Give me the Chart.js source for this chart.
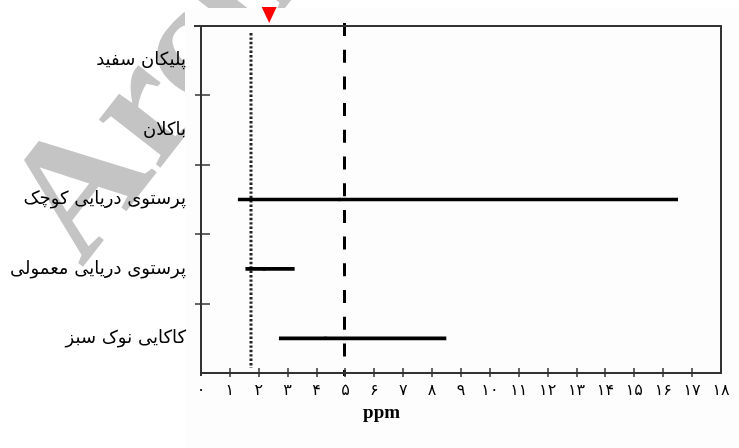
<!DOCTYPE html>
<html>
<head>
<meta charset="utf-8">
<script src="https://cdn.jsdelivr.net/npm/chart.js@4/dist/chart.umd.min.js"></script>
<style>
  html, body { margin: 0; padding: 0; background: #fff; }
  #wrap { width: 739px; height: 448px; }
</style>
</head>
<body>
<div id="wrap"><canvas id="chart" width="739" height="448"></canvas></div>
<script>
// data
var categories = ['پلیکان سفید', 'باکلان', 'پرستوی دریایی کوچک', 'پرستوی دریایی معمولی', 'کاکایی نوک سبز'];
var rangeLow = [null, null, 1.29, 1.55, 2.71];
var rangeHigh = [null, null, 16.5, 3.23, 8.48];
var midValues = [null, null, 4.79, 2.19, 4.31];
var xTickLabels = ['۰', '۱', '۲', '۳', '۴', '۵', '۶', '۷', '۸', '۹', '۱۰', '۱۱', '۱۲', '۱۳', '۱۴', '۱۵', '۱۶', '۱۷', '۱۸'];
var dottedLineValue = 1.73;
var dashedLineValue = 5;
var markerValue = 2.36;
var xTitle = 'ppm';
var xTitleAt = 6.25;
var watermark = 'Archive';

var rangeData = categories.map(function (c, i) {
    return rangeLow[i] == null ? null : [rangeLow[i], rangeHigh[i]];
});

// background, watermark, frame, reference lines, ticks
var decor = {
    id: 'decor',
    beforeDraw: function (chart) {
        var ctx = chart.ctx;
        ctx.save();
        ctx.fillStyle = '#fff';
        ctx.fillRect(0, 0, chart.width, chart.height);
        ctx.translate(82, 268);
        ctx.rotate(-52 * Math.PI / 180);
        ctx.fillStyle = '#c4c4c4';
        ctx.font = 'bold 170px "Liberation Serif"';
        ctx.textBaseline = 'alphabetic';
        ctx.fillText(watermark, 0, 0);
        ctx.restore();
        ctx.save();
        ctx.fillStyle = '#fdfdfd';
        ctx.fillRect(185, 8, chart.width - 185, chart.height - 8);
        ctx.restore();
    },
    beforeDatasetsDraw: function (chart) {
        var ctx = chart.ctx, a = chart.chartArea, xs = chart.scales.x;
        ctx.save();
        // dotted line
        var xd = Math.round(xs.getPixelForValue(dottedLineValue));
        ctx.strokeStyle = '#222';
        ctx.lineWidth = 3;
        ctx.setLineDash([2.4, 2]);
        ctx.beginPath();
        ctx.moveTo(xd, a.top + 7);
        ctx.lineTo(xd, a.bottom - 5);
        ctx.stroke();
        // dashed line
        var xx = Math.round(xs.getPixelForValue(dashedLineValue)) - 0.5;
        ctx.strokeStyle = '#000';
        ctx.lineWidth = 3;
        ctx.setLineDash([13, 13.7]);
        ctx.beginPath();
        ctx.moveTo(xx, a.top - 3);
        ctx.lineTo(xx, a.bottom + 3);
        ctx.stroke();
        ctx.restore();
    },
    afterDraw: function (chart) {
        var ctx = chart.ctx, a = chart.chartArea, xs = chart.scales.x, ys = chart.scales.y;
        ctx.save();
        ctx.strokeStyle = '#333';
        ctx.lineWidth = 2;
        ctx.beginPath();
        ctx.moveTo(a.left - 7, a.top);
        ctx.lineTo(a.right, a.top);
        ctx.lineTo(a.right, a.bottom);
        ctx.lineTo(a.left, a.bottom);
        ctx.moveTo(a.left, a.top);
        ctx.lineTo(a.left, a.bottom + 3);
        ctx.stroke();
        // x ticks
        ctx.lineWidth = 1.5;
        ctx.beginPath();
        for (var v = 1; v <= 17; v++) {
            var px = Math.round(xs.getPixelForValue(v));
            ctx.moveTo(px, a.bottom - 5);
            ctx.lineTo(px, a.bottom + 4);
        }
        // y ticks between categories
        for (var i = 1; i < categories.length; i++) {
            var py = Math.round((ys.getPixelForValue(i - 1) + ys.getPixelForValue(i)) / 2);
            ctx.moveTo(a.left - 6, py);
            ctx.lineTo(a.left + 9, py);
        }
        ctx.stroke();
        // red marker
        var mx = xs.getPixelForValue(markerValue);
        ctx.fillStyle = '#ff0000';
        ctx.beginPath();
        ctx.moveTo(mx - 7.5, 7);
        ctx.lineTo(mx + 7.5, 7);
        ctx.lineTo(mx, 23);
        ctx.closePath();
        ctx.fill();
        // axis title
        ctx.fillStyle = '#000';
        ctx.font = 'bold 19px "Liberation Serif"';
        ctx.textAlign = 'center';
        ctx.textBaseline = 'middle';
        ctx.fillText(xTitle, xs.getPixelForValue(xTitleAt), 413);
        ctx.restore();
    }
};

let chart = document.getElementById('chart').getContext('2d');

let rangeChart = new Chart(chart, {
    type: 'bar',
    data: {
        labels: categories,
        datasets: [{
            data: rangeData,
            backgroundColor: '#000',
            borderWidth: 0,
            barThickness: 3
        }, {
            type: 'line',
            indexAxis: 'y',
            data: midValues,
            showLine: false,
            pointStyle: 'rect',
            pointRadius: 2.3,
            pointBackgroundColor: '#000',
            pointBorderWidth: 0
        }]
    },
    options: {
        indexAxis: 'y',
        responsive: false,
        animation: false,
        layout: { padding: { top: 26, right: 18, bottom: 0, left: 0 } },
        plugins: {
            legend: { display: false },
            tooltip: { enabled: false }
        },
        scales: {
            x: {
                type: 'linear',
                min: 0,
                max: 18,
                grid: { display: false },
                border: { display: false },
                ticks: {
                    stepSize: 1,
                    autoSkip: false,
                    maxRotation: 0,
                    padding: 0,
                    color: '#000',
                    font: { family: 'DejaVu Sans', size: 16 },
                    callback: function (v) { return xTickLabels[v]; }
                },
                afterFit: function (s) { s.height = 75; }
            },
            y: {
                grid: { display: false },
                border: { display: false },
                ticks: {
                    padding: 7,
                    color: '#000',
                    font: { family: 'DejaVu Sans', size: 18 }
                },
                afterFit: function (s) { s.width = 201; }
            }
        }
    },
    plugins: [decor]
});
</script>
</body>
</html>
